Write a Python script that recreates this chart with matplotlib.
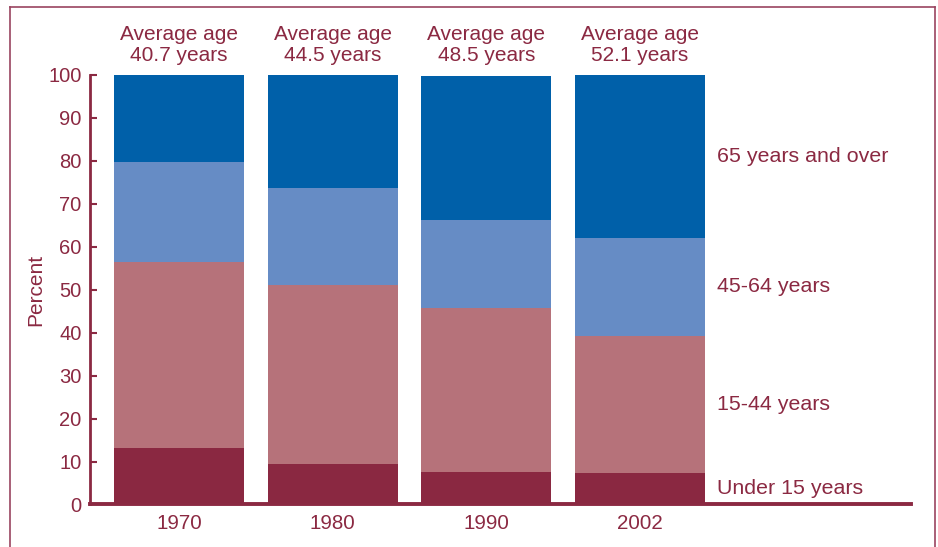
import numpy as np
import matplotlib
matplotlib.use('Agg')
import matplotlib.pyplot as plt
from matplotlib.lines import Line2D

# dane (procent populacji)
lata = ['1970', '1980', '1990', '2002']
srednia_wieku = ['40.7', '44.5', '48.5', '52.1']
grupy = ['Under 15 years', '15-44 years', '45-64 years', '65 years and over']
ponizej_15 = [13.2, 9.4, 7.6, 7.3]
od_15_do_44 = [43.3, 41.6, 38.2, 31.9]
od_45_do_64 = [23.2, 22.7, 20.4, 22.8]
powyzej_65 = [20.3, 26.3, 33.6, 38.0]
# wysokosc napisow po prawej stronie (w jednostkach osi y)
pozycje_opisow = [2.4, 22.0, 49.4, 79.7]

kolory = ['#8A2841', '#B6727A', '#668CC5', '#0060A9']
TXT = '#8B2942'

plt.rcParams['font.family'] = ['Liberation Sans', 'DejaVu Sans']

fig = plt.figure(figsize=(9.38, 5.47), dpi=100)
ax = fig.add_axes([0.09595, 0.0777, 0.87527, 0.7852])

x = np.arange(len(lata))
serie = [ponizej_15, od_15_do_44, od_45_do_64, powyzej_65]
dol = np.zeros(len(lata))
for wartosci, kolor in zip(serie, kolory):
    ax.bar(x, wartosci, width=0.846, bottom=dol, color=kolor, linewidth=0)
    dol += np.array(wartosci)

ax.set_xlim(-0.5792, 4.7634)
ax.set_ylim(0, 100)
ax.set_yticks(range(0, 101, 10))
ax.set_xticks(x)
ax.set_xticklabels(lata)

for s in ['top', 'right']:
    ax.spines[s].set_visible(False)
ax.spines['left'].set_color(TXT)
ax.spines['left'].set_linewidth(2.0)
ax.spines['bottom'].set_color(TXT)
ax.spines['bottom'].set_linewidth(2.8)

ax.tick_params(axis='y', direction='in', length=5, width=1.5, color=TXT,
               labelcolor=TXT, labelsize=14.5, pad=6)
ax.tick_params(axis='x', length=0, labelcolor=TXT, labelsize=14.8, pad=7)

ax.set_ylabel('Percent', color=TXT, fontsize=15)
ax.yaxis.set_label_coords(-0.054, 0.5)

# srednia wieku nad slupkami
for xi, wiek in zip(x, srednia_wieku):
    ax.annotate('Average age', (xi, 100), xytext=(0, 35), textcoords='offset pixels',
                ha='center', va='baseline', color=TXT, fontsize=15)
    ax.annotate(wiek + ' years', (xi, 100), xytext=(0, 14), textcoords='offset pixels',
                ha='center', va='baseline', color=TXT, fontsize=15)

# opisy grup po prawej
for nazwa, y in zip(grupy, pozycje_opisow):
    ax.text(3.5, y, nazwa, ha='left', va='baseline', color=TXT, fontsize=15.4)

# ramka wokol calego rysunku
W, H = 938, 547
ramka = dict(color='#9A4460', linewidth=1.2, transform=fig.transFigure)
fig.add_artist(Line2D([10 / W, 10 / W], [0, 1 - 7 / H], **ramka))
fig.add_artist(Line2D([10 / W, 935 / W], [1 - 7 / H, 1 - 7 / H], **ramka))
fig.add_artist(Line2D([935 / W, 935 / W], [0, 1 - 7 / H], **ramka))

fig.savefig('out.png', dpi=100)
